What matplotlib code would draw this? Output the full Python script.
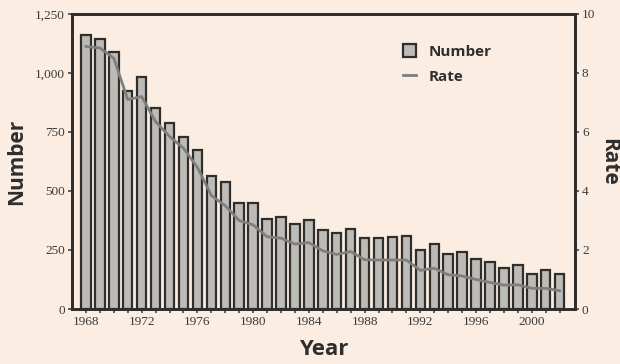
import numpy as np
import matplotlib
matplotlib.use('Agg')
import matplotlib.pyplot as plt
from matplotlib.lines import Line2D
from matplotlib.patches import Patch

years = list(range(1968, 2003))
number = [1160, 1145, 1090, 925, 985, 850, 790, 730, 675, 565,
          540, 450, 450, 380, 390, 360, 378, 335, 320, 340,
          300, 300, 305, 310, 250, 275, 235, 240, 210, 200,
          175, 185, 150, 165, 150]
rate = [8.9, 8.85, 8.5, 7.1, 7.2, 6.35, 5.85, 5.45, 4.8, 3.85,
        3.5, 3.0, 2.85, 2.45, 2.4, 2.2, 2.25, 1.97, 1.85, 1.95,
        1.67, 1.66, 1.66, 1.66, 1.31, 1.38, 1.16, 1.12, 1.0, 0.9,
        0.81, 0.82, 0.7, 0.7, 0.62]
tick_labels = ['1968', '1972', '1976', '1980', '1984', '1988', '1992', '1996', '2000']

bg = '#fbede1'
dark = '#2e2e2e'

fig = plt.figure(figsize=(6.2, 3.64), dpi=100, facecolor=bg)
ax = fig.add_axes([72/620, 1 - 309/364, 503/620, 295/364])
ax.set_facecolor(bg)

ax.bar(years, number, width=0.68, color='#bebab6', edgecolor=dark, linewidth=1.6, zorder=2)
ax.set_xlim(1967.0, 2003.1)
ax.set_ylim(0, 1250)
ax.set_yticks([0, 250, 500, 750, 1000, 1250])
ax.set_yticklabels(['0', '250', '500', '750', '1,000', '1,250'])
ax.set_xticks(years)
ax.set_xticklabels([str(y) if str(y) in tick_labels else '' for y in years])

ax2 = ax.twinx()
ax2.plot(years, rate, color='#7f7f7f', lw=2, zorder=3)
ax2.set_ylim(0, 10)
ax2.set_yticks([0, 2, 4, 6, 8, 10])

for a in (ax, ax2):
    for s in a.spines.values():
        s.set_color(dark)
        s.set_linewidth(2)
    a.tick_params(colors='#444444', labelsize=9.5, length=3, width=1.2, pad=2)
    for lab in a.get_xticklabels() + a.get_yticklabels():
        lab.set_family('Liberation Serif')
        lab.set_color('#3a3a3a')

ax.set_ylabel('Number', fontsize=15, fontweight='bold', family='Open Sans', color=dark, labelpad=6)
ax.set_xlabel('Year', fontsize=16, fontweight='bold', family='Open Sans', color=dark, labelpad=8)
ax2.set_ylabel('Rate', fontsize=15, fontweight='bold', family='Open Sans', color=dark,
               rotation=-90, labelpad=17)

handles = [Patch(facecolor='#bebab6', edgecolor=dark, linewidth=1.6, label='Number'),
           Line2D([0], [0], color='#7f7f7f', lw=2, label='Rate')]
leg = ax.legend(handles=handles, loc='upper left', bbox_to_anchor=(0.63, 0.945), frameon=False,
                prop={'family': 'Open Sans', 'weight': 'bold', 'size': 11},
                handlelength=0.9, handleheight=0.9, labelspacing=0.7, handletextpad=0.8)
for t in leg.get_texts():
    t.set_color(dark)

fig.savefig('out.png', dpi=100, facecolor=bg)
